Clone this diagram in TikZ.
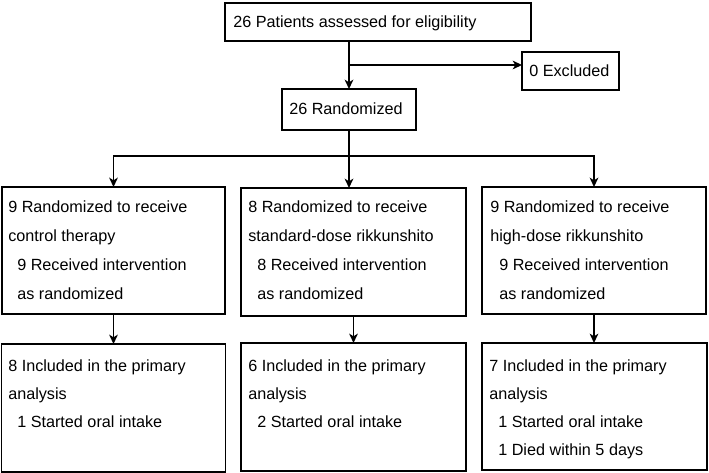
\documentclass[tikz,border=0pt]{standalone}
\usepackage{fontspec}
\setmainfont{Liberation Sans}
\usetikzlibrary{arrows.meta}
\begin{document}
\begin{tikzpicture}[x=0.75pt,y=-0.75pt,
  box/.style={draw, line width=1pt, anchor=north west, inner sep=0pt, outer sep=0pt},
  txt/.style={anchor=base west, align=left, inner sep=0pt, font=\fontsize{12.15pt}{21.75pt}\selectfont},
  txtb/.style={txt, font=\fontsize{12.15pt}{21pt}\selectfont},
  conn/.style={line width=1.3pt, -{Stealth[length=7pt,width=6.5pt,inset=2pt]}},
  plain/.style={line width=1.3pt}]
\useasboundingbox (0,0) rectangle (709,473);
% boxes
\node[box, minimum width=306*0.75pt, minimum height=38*0.75pt] (top) at (225,3) {};
\node[box, minimum width=97*0.75pt, minimum height=38*0.75pt] (excl) at (522,52) {};
\node[box, minimum width=134*0.75pt, minimum height=41*0.75pt] (rand) at (282,89) {};
\node[box, minimum width=223*0.75pt, minimum height=127*0.75pt] (ctrl) at (2,187) {};
\node[box, minimum width=225*0.75pt, minimum height=128*0.75pt] (std) at (241,188) {};
\node[box, minimum width=224*0.75pt, minimum height=127*0.75pt] (high) at (482,187) {};
\node[box, minimum width=224*0.75pt, minimum height=128*0.75pt] (ctrlB) at (1.5,344) {};
\node[box, minimum width=225*0.75pt, minimum height=128*0.75pt] (stdB) at (241,343) {};
\node[box, minimum width=225*0.75pt, minimum height=127*0.75pt] (highB) at (482,343) {};
% texts (anchored at the baseline of their last line)
\node[txt] (topT) at (233,28) {26 Patients assessed for eligibility};
\node[txt] (exclT) at (529,77) {0 Excluded};
\node[txt] (randT) at (289,115) {26 Randomized};
\node[txt] (ctrlT) at (8,300) {9 Randomized to receive\\control therapy\\\hspace*{6.75pt}9 Received intervention\\\hspace*{6.75pt}as randomized};
\node[txt] (stdT) at (248,300) {8 Randomized to receive\\standard-dose rikkunshito\\\hspace*{6.75pt}8 Received intervention\\\hspace*{6.75pt}as randomized};
\node[txt] (highT) at (490,300) {9 Randomized to receive\\high-dose rikkunshito\\\hspace*{6.75pt}9 Received intervention\\\hspace*{6.75pt}as randomized};
\node[txtb] (ctrlBT) at (8,427) {8 Included in the primary\\analysis\\\hspace*{6.75pt}1 Started oral intake};
\node[txtb] (stdBT) at (248,427) {6 Included in the primary\\analysis\\\hspace*{6.75pt}2 Started oral intake};
\node[txtb] (highBT) at (489,455) {7 Included in the primary\\analysis\\\hspace*{6.75pt}1 Started oral intake\\\hspace*{6.75pt}1 Died within 5 days};
% connectors
\draw[conn] (top.south -| rand.north) -- (rand.north);
\path (top.south -| rand.north) ++(0,24) coordinate (ex);
\draw[conn] (ex) -- (ex -| excl.west);
\path (rand.south) ++(0,26) coordinate (split);
\draw[plain] (rand.south) -- (split);
\draw[conn] (split) -| (ctrl.north);
\draw[conn] (split) -| (high.north);
\draw[conn] (split) -- (split |- std.north);
\draw[conn] (ctrl.south) -- (ctrl.south |- ctrlB.north);
\draw[conn] (std.south) -- (std.south |- stdB.north);
\draw[conn] (high.south) -- (high.south |- highB.north);
\end{tikzpicture}
\end{document}
